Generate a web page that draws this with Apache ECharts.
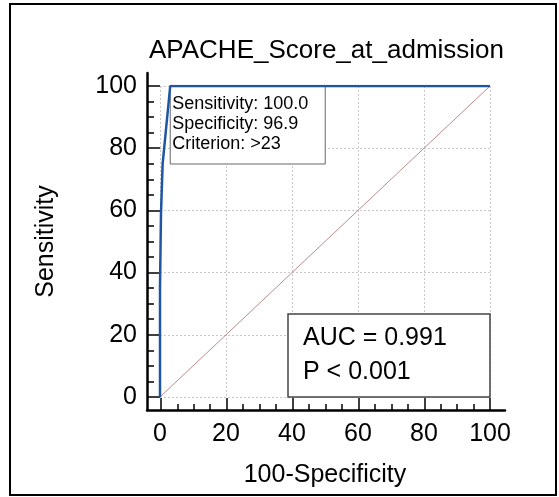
<!DOCTYPE html>
<html>
<head>
<meta charset="utf-8">
<script src="https://cdn.jsdelivr.net/npm/echarts@6/dist/echarts.min.js"></script>
<style>
  html, body { margin: 0; padding: 0; background: #ffffff; }
  #rocChart { width: 559px; height: 497px; }
</style>
</head>
<body>
<div id="rocChart"></div>
<script>
    // ROC curve (100-Specificity, Sensitivity)
    var rocX = [0, 0, 0.3, 0.8, 3.1, 100];
    var rocY = [0, 35, 59, 75, 100, 100];
    var diagX = [0, 100];
    var diagY = [0, 100];
    var tickValues = [0, 20, 40, 60, 80, 100];
    var cutPoint = [3.1, 100];
    var cutText = ['Sensitivity: 100.0', 'Specificity: 96.9', 'Criterion: >23'];
    var aucText = ['AUC = 0.991', 'P < 0.001'];

    var fontName = '"Liberation Sans", Arial, sans-serif';

    function pairs(xs, ys) {
        return xs.map(function (x, i) { return [x, ys[i]]; });
    }

    // minor tick positions: 4 steps inside each major interval
    var minorValues = [];
    for (var i = 0; i < tickValues.length - 1; i++) {
        var step = (tickValues[i + 1] - tickValues[i]) / 4;
        for (var k = 1; k < 4; k++) minorValues.push(tickValues[i] + k * step);
    }

    var myChart = echarts.init(document.getElementById('rocChart'), null, {renderer: 'canvas'});

    // data area axes: labels, names, dotted grid
    var innerAxis = function (pos, offset, margin) {
        return {
            type: 'value',
            gridIndex: 0,
            position: pos,
            min: tickValues[0],
            max: tickValues[tickValues.length - 1],
            interval: 20,
            offset: offset,
            axisLine: {show: false},
            axisTick: {show: false},
            axisLabel: {
                margin: margin,
                color: '#000',
                fontSize: 25,
                fontFamily: fontName
            },
            splitLine: {show: true, lineStyle: {color: '#c8c8c8', type: [2, 2], width: 1}}
        };
    };

    // outer axes: the long black lines and their ticks
    var outerAxis = function (pos, max, ticks, len, showLine) {
        return {
            type: 'value',
            gridIndex: 1,
            position: pos,
            min: -4.2,
            max: max,
            axisLine: {show: showLine, onZero: false, lineStyle: {color: '#000', width: 2.5}},
            axisTick: {show: true, inside: true, length: len, customValues: ticks,
                lineStyle: {color: '#000', width: 1.5}},
            axisLabel: {show: false},
            splitLine: {show: false}
        };
    };

    var xIn = innerAxis('bottom', 13, 12);
    xIn.name = '100-Specificity';
    xIn.nameLocation = 'middle';
    xIn.nameGap = 53;
    xIn.nameTextStyle = {color: '#000', fontSize: 25, fontFamily: fontName};

    var yIn = innerAxis('left', 13, 10);
    yIn.name = 'Sensitivity';
    yIn.nameLocation = 'middle';
    yIn.nameGap = 88;
    yIn.nameTextStyle = {color: '#000', fontSize: 25, fontFamily: fontName};

    myChart.setOption({
        animation: false,
        backgroundColor: '#ffffff',
        title: {
            text: 'APACHE_Score_at_admission',
            left: 144,
            top: 33,
            textStyle: {color: '#000', fontWeight: 'normal', fontSize: 26, fontFamily: fontName}
        },
        grid: [
            {left: 160, top: 86, width: 330, height: 311},
            {left: 147, top: 73, right: 54, bottom: 87}
        ],
        xAxis: [
            xIn,
            outerAxis('bottom', 104.5, tickValues, 12, true),
            outerAxis('bottom', 104.5, minorValues, 6, false)
        ],
        yAxis: [
            yIn,
            outerAxis('left', 104.2, tickValues, 13, true),
            outerAxis('left', 104.2, minorValues, 7, false)
        ],
        series: [
            {
                name: 'diagonal',
                type: 'line',
                xAxisIndex: 0,
                yAxisIndex: 0,
                data: pairs(diagX, diagY),
                symbol: 'none',
                lineStyle: {color: '#b98c8c', width: 1},
                z: 2
            },
            {
                name: 'roc',
                type: 'line',
                xAxisIndex: 0,
                yAxisIndex: 0,
                data: pairs(rocX, rocY),
                symbol: 'none',
                lineStyle: {color: '#1f56a3', width: 2.5},
                z: 3
            }
        ]
    });

    // boxes placed through the axes' own scale
    var cutPx = myChart.convertToPixel({xAxisIndex: 0, yAxisIndex: 0}, cutPoint);
    var cornerPx = myChart.convertToPixel({xAxisIndex: 0, yAxisIndex: 0}, [100, 0]);
    var aucW = 202, aucH = 83;

    myChart.setOption({
        graphic: [
            {
                type: 'rect',
                shape: {x: 10, y: 4, width: 546, height: 491},
                style: {fill: 'none', stroke: '#000', lineWidth: 2},
                z: 1
            },
            {
                type: 'group',
                x: cutPx[0],
                y: cutPx[1],
                z: 10,
                children: [
                    {
                        type: 'rect',
                        shape: {x: 0, y: 0, width: 155, height: 78},
                        style: {fill: '#ffffff', stroke: '#666', lineWidth: 1}
                    }
                ].concat(cutText.map(function (t, i) {
                    return {
                        type: 'text',
                        x: 2,
                        y: 18 + i * 20,
                        style: {text: t, fill: '#000', font: '18px ' + fontName, textVerticalAlign: 'middle'}
                    };
                }))
            },
            {
                type: 'group',
                x: cornerPx[0] - aucW,
                y: cornerPx[1] - aucH,
                z: 10,
                children: [
                    {
                        type: 'rect',
                        shape: {x: 0, y: 0, width: aucW, height: aucH},
                        style: {fill: '#ffffff', stroke: '#444', lineWidth: 1.5}
                    }
                ].concat(aucText.map(function (t, i) {
                    return {
                        type: 'text',
                        x: 15,
                        y: 24 + i * 34,
                        style: {text: t, fill: '#000', font: '25px ' + fontName, textVerticalAlign: 'middle'}
                    };
                }))
            }
        ]
    });

    window.addEventListener('resize', function () {
        myChart.resize();
    });
</script>
</body>
</html>
